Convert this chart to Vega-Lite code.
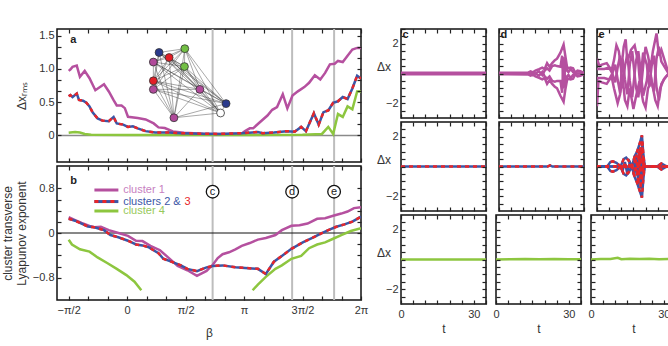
{
"$schema":"https://vega.github.io/schema/vega-lite/v6.json",
"background":"white",
"padding":{"left":0,"top":22,"right":3,"bottom":3},
"autosize":{"type":"pad"},
"config":{
 "view":{"stroke":"#111","strokeWidth":1.5},
 "font":"Liberation Sans",
 "style":{"tk":{"domain":false,"grid":false,"ticks":true,"tickColor":"#222","tickSize":4,"offset":-4,"minExtent":0,"maxExtent":60,"tickWidth":1.2,"labelPadding":3,"labelFont":"Liberation Sans","labelFontSize":11,"labelColor":"#333","titleFont":"Liberation Sans","titleFontSize":12,"titleFontWeight":"normal","titleColor":"#333","labelFlush":false,"labelOverlap":false,"zindex":1}}
},
"datasets":{
 "vlines":[{"b":0.731,"k":"c"},{"b":1.411,"k":"d"},{"b":1.77,"k":"e"}],
 "a1":[{"b":-0.5,"v":0.97},{"b":-0.486,"v":0.99},{"b":-0.467,"v":1.03},{"b":-0.431,"v":1.05},{"b":-0.404,"v":0.88},{"b":-0.363,"v":0.97},{"b":-0.322,"v":0.86},{"b":-0.272,"v":0.68},{"b":-0.198,"v":0.77},{"b":-0.157,"v":0.66},{"b":-0.116,"v":0.53},{"b":-0.089,"v":0.45},{"b":-0.048,"v":0.45},{"b":-0.02,"v":0.41},{"b":0.007,"v":0.28},{"b":0.09,"v":0.26},{"b":0.158,"v":0.24},{"b":0.227,"v":0.18},{"b":0.268,"v":0.12},{"b":0.322,"v":0.11},{"b":0.391,"v":0.06},{"b":0.487,"v":0.04},{"b":0.651,"v":0.026},{"b":0.789,"v":0.022},{"b":0.871,"v":0.022},{"b":0.98,"v":0.03},{"b":1.008,"v":0.064},{"b":1.049,"v":0.106},{"b":1.077,"v":0.106},{"b":1.118,"v":0.171},{"b":1.159,"v":0.235},{"b":1.2,"v":0.299},{"b":1.241,"v":0.385},{"b":1.282,"v":0.427},{"b":1.331,"v":0.619},{"b":1.37,"v":0.406},{"b":1.414,"v":0.598},{"b":1.46,"v":0.662},{"b":1.515,"v":0.726},{"b":1.556,"v":0.791},{"b":1.605,"v":0.906},{"b":1.652,"v":0.842},{"b":1.693,"v":0.94},{"b":1.734,"v":1.068},{"b":1.775,"v":1.077},{"b":1.803,"v":1.12},{"b":1.844,"v":1.103},{"b":1.885,"v":1.197},{"b":1.926,"v":1.291},{"b":1.967,"v":1.316},{"b":2.0,"v":1.316}],
 "a23":[{"b":-0.5,"v":0.59},{"b":-0.486,"v":0.607},{"b":-0.467,"v":0.577},{"b":-0.431,"v":0.628},{"b":-0.412,"v":0.534},{"b":-0.377,"v":0.521},{"b":-0.349,"v":0.491},{"b":-0.322,"v":0.436},{"b":-0.294,"v":0.342},{"b":-0.253,"v":0.256},{"b":-0.212,"v":0.222},{"b":-0.157,"v":0.214},{"b":-0.116,"v":0.278},{"b":-0.089,"v":0.179},{"b":-0.034,"v":0.162},{"b":0.007,"v":0.128},{"b":0.049,"v":0.137},{"b":0.09,"v":0.106},{"b":0.158,"v":0.064},{"b":0.24,"v":0.043},{"b":0.35,"v":0.043},{"b":0.46,"v":0.034},{"b":0.624,"v":0.026},{"b":0.789,"v":0.022},{"b":0.98,"v":0.034},{"b":1.118,"v":0.051},{"b":1.159,"v":0.034},{"b":1.255,"v":0.043},{"b":1.364,"v":0.064},{"b":1.433,"v":0.056},{"b":1.488,"v":0.128},{"b":1.529,"v":0.064},{"b":1.597,"v":0.333},{"b":1.638,"v":0.162},{"b":1.679,"v":0.35},{"b":1.72,"v":0.376},{"b":1.762,"v":0.491},{"b":1.803,"v":0.513},{"b":1.844,"v":0.577},{"b":1.885,"v":0.547},{"b":1.926,"v":0.705},{"b":1.967,"v":0.897},{"b":2.0,"v":0.855}],
 "a4":[{"b":-0.5,"v":0.04},{"b":-0.486,"v":0.043},{"b":-0.445,"v":0.051},{"b":-0.404,"v":0.043},{"b":-0.363,"v":0.022},{"b":-0.308,"v":0.009},{"b":0,"v":0.005},{"b":0.5,"v":0.005},{"b":1.0,"v":0.005},{"b":1.5,"v":0.008},{"b":1.666,"v":0.022},{"b":1.72,"v":0.128},{"b":1.762,"v":0.022},{"b":1.803,"v":0.321},{"b":1.844,"v":0.278},{"b":1.885,"v":0.436},{"b":1.926,"v":0.393},{"b":1.967,"v":0.662},{"b":2.0,"v":0.662}],
 "b1":[{"b":-0.5,"v":0.282},{"b":-0.445,"v":0.231},{"b":-0.39,"v":0.179},{"b":-0.322,"v":0.128},{"b":-0.28,"v":0.102},{"b":-0.225,"v":0.112},{"b":-0.157,"v":0.051},{"b":-0.075,"v":0.0},{"b":0.007,"v":-0.052},{"b":0.076,"v":-0.138},{"b":0.131,"v":-0.145},{"b":0.199,"v":-0.231},{"b":0.281,"v":-0.308},{"b":0.35,"v":-0.437},{"b":0.432,"v":-0.591},{"b":0.515,"v":-0.668},{"b":0.597,"v":-0.769},{"b":0.679,"v":-0.68},{"b":0.734,"v":-0.565},{"b":0.775,"v":-0.45},{"b":0.816,"v":-0.38},{"b":0.871,"v":-0.345},{"b":0.926,"v":-0.292},{"b":0.98,"v":-0.231},{"b":1.049,"v":-0.18},{"b":1.118,"v":-0.118},{"b":1.186,"v":-0.088},{"b":1.268,"v":-0.037},{"b":1.323,"v":0.051},{"b":1.405,"v":0.128},{"b":1.474,"v":0.138},{"b":1.543,"v":0.169},{"b":1.625,"v":0.255},{"b":1.693,"v":0.266},{"b":1.762,"v":0.308},{"b":1.831,"v":0.348},{"b":1.885,"v":0.385},{"b":1.94,"v":0.446},{"b":2.0,"v":0.462}],
 "b23":[{"b":-0.5,"v":0.255},{"b":-0.445,"v":0.22},{"b":-0.39,"v":0.169},{"b":-0.336,"v":0.117},{"b":-0.28,"v":0.102},{"b":-0.239,"v":0.077},{"b":-0.198,"v":0.051},{"b":-0.143,"v":-0.037},{"b":-0.075,"v":-0.077},{"b":0.007,"v":-0.138},{"b":0.076,"v":-0.206},{"b":0.131,"v":-0.222},{"b":0.186,"v":-0.257},{"b":0.268,"v":-0.36},{"b":0.309,"v":-0.462},{"b":0.377,"v":-0.514},{"b":0.46,"v":-0.58},{"b":0.515,"v":-0.642},{"b":0.597,"v":-0.683},{"b":0.679,"v":-0.615},{"b":0.734,"v":-0.591},{"b":0.816,"v":-0.58},{"b":0.926,"v":-0.615},{"b":1.008,"v":-0.626},{"b":1.118,"v":-0.642},{"b":1.186,"v":-0.734},{"b":1.255,"v":-0.514},{"b":1.323,"v":-0.411},{"b":1.405,"v":-0.283},{"b":1.502,"v":-0.169},{"b":1.584,"v":-0.088},{"b":1.652,"v":-0.015},{"b":1.72,"v":0.051},{"b":1.789,"v":0.112},{"b":1.858,"v":0.154},{"b":1.926,"v":0.205},{"b":2.0,"v":0.292}],
 "b4":[{"g":1,"b":-0.5,"v":-0.12},{"g":1,"b":-0.472,"v":-0.206},{"g":1,"b":-0.404,"v":-0.292},{"g":1,"b":-0.322,"v":-0.334},{"g":1,"b":-0.253,"v":-0.437},{"g":1,"b":-0.171,"v":-0.538},{"g":1,"b":-0.089,"v":-0.642},{"g":1,"b":-0.007,"v":-0.754},{"g":1,"b":0.063,"v":-0.872},{"g":1,"b":0.121,"v":-1.025},{"g":2,"b":1.073,"v":-1.025},{"g":2,"b":1.118,"v":-0.923},{"g":2,"b":1.186,"v":-0.785},{"g":2,"b":1.268,"v":-0.642},{"g":2,"b":1.323,"v":-0.58},{"g":2,"b":1.405,"v":-0.462},{"g":2,"b":1.488,"v":-0.411},{"g":2,"b":1.556,"v":-0.272},{"g":2,"b":1.625,"v":-0.206},{"g":2,"b":1.693,"v":-0.169},{"g":2,"b":1.762,"v":-0.103},{"g":2,"b":1.831,"v":-0.037},{"g":2,"b":1.913,"v":0.035},{"g":2,"b":2.0,"v":0.086}],
 "nodes":[{"id":0,"nx":0.273,"ny":1.247,"k":"2"},{"id":1,"nx":0.493,"ny":1.304,"k":"4"},{"id":2,"nx":0.359,"ny":1.171,"k":"3"},{"id":3,"nx":0.224,"ny":1.103,"k":"1"},{"id":4,"nx":0.49,"ny":1.035,"k":"4"},{"id":5,"nx":0.224,"ny":0.821,"k":"3"},{"id":6,"nx":0.224,"ny":0.692,"k":"1"},{"id":7,"nx":0.622,"ny":0.692,"k":"1"},{"id":8,"nx":0.846,"ny":0.478,"k":"2"},{"id":9,"nx":0.799,"ny":0.337,"k":"0"},{"id":10,"nx":0.4,"ny":0.265,"k":"1"}],
 "edges":[{"s":0,"t":1},{"s":0,"t":2},{"s":0,"t":4},{"s":0,"t":5},{"s":0,"t":6},{"s":0,"t":7},{"s":0,"t":8},{"s":0,"t":9},{"s":0,"t":10},{"s":1,"t":2},{"s":1,"t":3},{"s":1,"t":4},{"s":1,"t":5},{"s":1,"t":6},{"s":1,"t":7},{"s":1,"t":8},{"s":1,"t":9},{"s":1,"t":10},{"s":2,"t":3},{"s":2,"t":4},{"s":2,"t":5},{"s":2,"t":6},{"s":2,"t":7},{"s":2,"t":8},{"s":2,"t":9},{"s":2,"t":10},{"s":3,"t":4},{"s":3,"t":5},{"s":3,"t":7},{"s":3,"t":8},{"s":3,"t":9},{"s":3,"t":10},{"s":4,"t":5},{"s":4,"t":6},{"s":4,"t":7},{"s":4,"t":8},{"s":4,"t":9},{"s":4,"t":10},{"s":5,"t":7},{"s":5,"t":8},{"s":5,"t":9},{"s":5,"t":10},{"s":6,"t":7},{"s":6,"t":8},{"s":6,"t":9},{"s":6,"t":10},{"s":7,"t":8},{"s":7,"t":9},{"s":7,"t":10},{"s":8,"t":9},{"s":8,"t":10},{"s":9,"t":10}],
 "ts":[
  {"p":"c1","s":"a","t":0,"v":0.05},{"p":"c1","s":"a","t":35,"v":0.05},{"p":"c1","s":"b","t":0,"v":-0.05},{"p":"c1","s":"b","t":35,"v":-0.05},
  {"p":"c2","s":"a","t":0,"v":0},{"p":"c2","s":"a","t":35,"v":0},
  {"p":"d2","s":"a","t":0,"v":0},{"p":"d2","s":"a","t":20,"v":0},{"p":"d2","s":"a","t":21,"v":0.08},{"p":"d2","s":"a","t":22,"v":0},{"p":"d2","s":"a","t":35,"v":0},
  {"p":"c3","s":"a","t":0,"v":0},{"p":"c3","s":"a","t":35,"v":0},
  {"p":"d3","s":"a","t":0,"v":0},{"p":"d3","s":"a","t":6,"v":0.02},{"p":"d3","s":"a","t":12,"v":0.04},{"p":"d3","s":"a","t":18,"v":0.01},{"p":"d3","s":"a","t":24,"v":0.03},{"p":"d3","s":"a","t":30,"v":0.01},{"p":"d3","s":"a","t":35,"v":0.02},
  {"p":"e3","s":"a","t":0,"v":0},{"p":"e3","s":"a","t":4,"v":0.03},{"p":"e3","s":"a","t":8,"v":0.04},{"p":"e3","s":"a","t":11,"v":0.12},{"p":"e3","s":"a","t":12.5,"v":0.02},{"p":"e3","s":"a","t":16,"v":0.05},{"p":"e3","s":"a","t":20,"v":0.03},{"p":"e3","s":"a","t":24,"v":0.05},{"p":"e3","s":"a","t":28,"v":0.02},{"p":"e3","s":"a","t":32,"v":0.04},{"p":"e3","s":"a","t":35,"v":0.03},
  {"p":"d1","s":"1","t":0,"v":0.05},{"p":"d1","s":"1","t":12,"v":0.06},{"p":"d1","s":"1","t":13,"v":0.15},{"p":"d1","s":"1","t":14,"v":0.08},{"p":"d1","s":"1","t":15,"v":0.2},{"p":"d1","s":"1","t":16.5,"v":0.3},{"p":"d1","s":"1","t":17.8,"v":0.4},{"p":"d1","s":"1","t":18.8,"v":0.3},{"p":"d1","s":"1","t":19.8,"v":0.7},{"p":"d1","s":"1","t":20.8,"v":0.45},{"p":"d1","s":"1","t":21.9,"v":0.7},{"p":"d1","s":"1","t":23,"v":0.9},{"p":"d1","s":"1","t":23.9,"v":1.0},{"p":"d1","s":"1","t":25.3,"v":1.4},{"p":"d1","s":"1","t":26.6,"v":1.95},{"p":"d1","s":"1","t":27.3,"v":1.2},{"p":"d1","s":"1","t":28,"v":0.45},{"p":"d1","s":"1","t":28.6,"v":0.35},{"p":"d1","s":"1","t":29.5,"v":0.4},{"p":"d1","s":"1","t":30.5,"v":0.35},{"p":"d1","s":"1","t":31.4,"v":0.05},{"p":"d1","s":"1","t":32.3,"v":0.2},{"p":"d1","s":"1","t":33.5,"v":0.15},{"p":"d1","s":"1","t":35,"v":0.05},
  {"p":"d1","s":"2","t":0,"v":-0.05},{"p":"d1","s":"2","t":12,"v":-0.06},{"p":"d1","s":"2","t":13,"v":-0.15},{"p":"d1","s":"2","t":14,"v":-0.08},{"p":"d1","s":"2","t":15,"v":-0.2},{"p":"d1","s":"2","t":16.5,"v":-0.3},{"p":"d1","s":"2","t":17.8,"v":-0.4},{"p":"d1","s":"2","t":18.8,"v":-0.3},{"p":"d1","s":"2","t":19.8,"v":-0.7},{"p":"d1","s":"2","t":20.8,"v":-0.45},{"p":"d1","s":"2","t":21.9,"v":-0.7},{"p":"d1","s":"2","t":23,"v":-0.9},{"p":"d1","s":"2","t":23.9,"v":-1.0},{"p":"d1","s":"2","t":25.3,"v":-1.5},{"p":"d1","s":"2","t":26.6,"v":-1.9},{"p":"d1","s":"2","t":27.3,"v":-1.1},{"p":"d1","s":"2","t":28,"v":-0.45},{"p":"d1","s":"2","t":28.6,"v":-0.35},{"p":"d1","s":"2","t":29.5,"v":-0.4},{"p":"d1","s":"2","t":30.5,"v":-0.35},{"p":"d1","s":"2","t":31.4,"v":-0.05},{"p":"d1","s":"2","t":32.3,"v":-0.2},{"p":"d1","s":"2","t":33.5,"v":-0.15},{"p":"d1","s":"2","t":35,"v":-0.05},
  {"p":"d1","s":"3","t":0,"v":0},{"p":"d1","s":"3","t":15,"v":0},{"p":"d1","s":"3","t":16.5,"v":0.15},{"p":"d1","s":"3","t":17.8,"v":-0.1},{"p":"d1","s":"3","t":18.8,"v":0.2},{"p":"d1","s":"3","t":19.8,"v":0.35},{"p":"d1","s":"3","t":20.8,"v":0.2},{"p":"d1","s":"3","t":21.9,"v":0.5},{"p":"d1","s":"3","t":23,"v":0.55},{"p":"d1","s":"3","t":23.9,"v":0.5},{"p":"d1","s":"3","t":25.3,"v":0.45},{"p":"d1","s":"3","t":26,"v":1.2},{"p":"d1","s":"3","t":26.6,"v":-1.0},{"p":"d1","s":"3","t":27.3,"v":0.8},{"p":"d1","s":"3","t":28,"v":0.2},{"p":"d1","s":"3","t":28.6,"v":0.1},{"p":"d1","s":"3","t":29.5,"v":0.3},{"p":"d1","s":"3","t":30.5,"v":0.1},{"p":"d1","s":"3","t":31.4,"v":0},{"p":"d1","s":"3","t":35,"v":0},
  {"p":"d1","s":"4","t":0,"v":0},{"p":"d1","s":"4","t":15,"v":0},{"p":"d1","s":"4","t":16.5,"v":-0.15},{"p":"d1","s":"4","t":17.8,"v":0.1},{"p":"d1","s":"4","t":18.8,"v":-0.2},{"p":"d1","s":"4","t":19.8,"v":-0.35},{"p":"d1","s":"4","t":20.8,"v":-0.2},{"p":"d1","s":"4","t":21.9,"v":-0.5},{"p":"d1","s":"4","t":23,"v":-0.55},{"p":"d1","s":"4","t":23.9,"v":-0.5},{"p":"d1","s":"4","t":25.3,"v":-0.5},{"p":"d1","s":"4","t":26,"v":-1.3},{"p":"d1","s":"4","t":26.6,"v":1.1},{"p":"d1","s":"4","t":27.3,"v":-0.8},{"p":"d1","s":"4","t":28,"v":-0.2},{"p":"d1","s":"4","t":28.6,"v":-0.1},{"p":"d1","s":"4","t":29.5,"v":-0.3},{"p":"d1","s":"4","t":30.5,"v":-0.1},{"p":"d1","s":"4","t":31.4,"v":0},{"p":"d1","s":"4","t":35,"v":0},
  {"p":"e1","s":"A","t":0,"v":1.0},{"p":"e1","s":"A","t":1,"v":0.5},{"p":"e1","s":"A","t":2,"v":0.6},{"p":"e1","s":"A","t":4,"v":0.7},{"p":"e1","s":"A","t":6,"v":0.2},{"p":"e1","s":"A","t":7,"v":0.9},{"p":"e1","s":"A","t":8,"v":1.9},{"p":"e1","s":"A","t":9,"v":1.5},{"p":"e1","s":"A","t":10,"v":0.3},{"p":"e1","s":"A","t":11,"v":1.8},{"p":"e1","s":"A","t":11.8,"v":2.3},{"p":"e1","s":"A","t":12.5,"v":0.8},{"p":"e1","s":"A","t":14,"v":1.6},{"p":"e1","s":"A","t":15.5,"v":1.9},{"p":"e1","s":"A","t":17,"v":0.7},{"p":"e1","s":"A","t":18,"v":-1.2},{"p":"e1","s":"A","t":19,"v":0.5},{"p":"e1","s":"A","t":20,"v":1.8},{"p":"e1","s":"A","t":21,"v":1.2},{"p":"e1","s":"A","t":22,"v":0.3},{"p":"e1","s":"A","t":23,"v":1.5},{"p":"e1","s":"A","t":24.5,"v":2.7},{"p":"e1","s":"A","t":25.5,"v":1.2},{"p":"e1","s":"A","t":26.5,"v":1.6},{"p":"e1","s":"A","t":28,"v":0.8},{"p":"e1","s":"A","t":29.5,"v":0},{"p":"e1","s":"A","t":31,"v":-0.8},{"p":"e1","s":"A","t":32.5,"v":-1.3},{"p":"e1","s":"A","t":33.5,"v":-1.0},{"p":"e1","s":"A","t":35,"v":-0.5},
  {"p":"e1","s":"B","t":0,"v":-2.2},{"p":"e1","s":"B","t":0.6,"v":-0.5},{"p":"e1","s":"B","t":2,"v":-0.6},{"p":"e1","s":"B","t":4,"v":-0.7},{"p":"e1","s":"B","t":6,"v":-0.2},{"p":"e1","s":"B","t":7,"v":-1.0},{"p":"e1","s":"B","t":8.5,"v":-2.0},{"p":"e1","s":"B","t":9.5,"v":-1.4},{"p":"e1","s":"B","t":10.5,"v":-0.2},{"p":"e1","s":"B","t":11.5,"v":-1.8},{"p":"e1","s":"B","t":12.5,"v":-2.2},{"p":"e1","s":"B","t":13.5,"v":-1.0},{"p":"e1","s":"B","t":15,"v":-2.4},{"p":"e1","s":"B","t":16,"v":-1.6},{"p":"e1","s":"B","t":17.5,"v":-0.5},{"p":"e1","s":"B","t":19,"v":-1.9},{"p":"e1","s":"B","t":20,"v":-2.3},{"p":"e1","s":"B","t":21,"v":-1.0},{"p":"e1","s":"B","t":22.5,"v":-0.5},{"p":"e1","s":"B","t":24,"v":-1.8},{"p":"e1","s":"B","t":25,"v":-2.2},{"p":"e1","s":"B","t":26,"v":-1.0},{"p":"e1","s":"B","t":27.5,"v":-0.4},{"p":"e1","s":"B","t":29.5,"v":0},{"p":"e1","s":"B","t":31,"v":0.9},{"p":"e1","s":"B","t":32.5,"v":1.3},{"p":"e1","s":"B","t":33.5,"v":1.1},{"p":"e1","s":"B","t":35,"v":0.6},
  {"p":"e1","s":"C","t":0,"v":0.3},{"p":"e1","s":"C","t":3,"v":0.3},{"p":"e1","s":"C","t":5,"v":0.4},{"p":"e1","s":"C","t":6.3,"v":0},{"p":"e1","s":"C","t":7.5,"v":-0.6},{"p":"e1","s":"C","t":8.5,"v":0.4},{"p":"e1","s":"C","t":9.5,"v":1.2},{"p":"e1","s":"C","t":10.5,"v":-1.0},{"p":"e1","s":"C","t":11.5,"v":0.5},{"p":"e1","s":"C","t":12.5,"v":1.3},{"p":"e1","s":"C","t":13.5,"v":-0.5},{"p":"e1","s":"C","t":14.5,"v":-1.6},{"p":"e1","s":"C","t":16,"v":0.8},{"p":"e1","s":"C","t":17,"v":1.5},{"p":"e1","s":"C","t":18,"v":0.2},{"p":"e1","s":"C","t":19,"v":-1.5},{"p":"e1","s":"C","t":20.5,"v":-0.5},{"p":"e1","s":"C","t":21.5,"v":0.9},{"p":"e1","s":"C","t":22.5,"v":-0.6},{"p":"e1","s":"C","t":23.5,"v":-1.2},{"p":"e1","s":"C","t":24.5,"v":1.0},{"p":"e1","s":"C","t":25.5,"v":1.8},{"p":"e1","s":"C","t":26.5,"v":0.8},{"p":"e1","s":"C","t":28,"v":0.4},{"p":"e1","s":"C","t":29.5,"v":0},{"p":"e1","s":"C","t":31,"v":-0.4},{"p":"e1","s":"C","t":32.5,"v":-0.6},{"p":"e1","s":"C","t":34,"v":-0.2},{"p":"e1","s":"C","t":35,"v":-1.4},
  {"p":"e1","s":"D","t":0,"v":-0.3},{"p":"e1","s":"D","t":3,"v":-0.3},{"p":"e1","s":"D","t":5,"v":-0.4},{"p":"e1","s":"D","t":6.3,"v":0},{"p":"e1","s":"D","t":7.5,"v":0.6},{"p":"e1","s":"D","t":8.5,"v":-0.4},{"p":"e1","s":"D","t":9.5,"v":-1.3},{"p":"e1","s":"D","t":10.5,"v":1.0},{"p":"e1","s":"D","t":11.5,"v":-0.4},{"p":"e1","s":"D","t":12.5,"v":-1.4},{"p":"e1","s":"D","t":13.5,"v":0.6},{"p":"e1","s":"D","t":14.5,"v":1.5},{"p":"e1","s":"D","t":16,"v":-0.9},{"p":"e1","s":"D","t":17,"v":-1.6},{"p":"e1","s":"D","t":18,"v":-0.3},{"p":"e1","s":"D","t":19,"v":1.4},{"p":"e1","s":"D","t":20.5,"v":0.6},{"p":"e1","s":"D","t":21.5,"v":-0.9},{"p":"e1","s":"D","t":22.5,"v":0.5},{"p":"e1","s":"D","t":23.5,"v":1.2},{"p":"e1","s":"D","t":24.5,"v":-0.9},{"p":"e1","s":"D","t":25.5,"v":-1.8},{"p":"e1","s":"D","t":26.5,"v":-0.7},{"p":"e1","s":"D","t":28,"v":-0.3},{"p":"e1","s":"D","t":29.5,"v":0},{"p":"e1","s":"D","t":31,"v":0.4},{"p":"e1","s":"D","t":32.5,"v":0.7},{"p":"e1","s":"D","t":34,"v":1.2},{"p":"e1","s":"D","t":35,"v":0.3},
  {"p":"e2","s":"P","t":0,"v":0.02},{"p":"e2","s":"P","t":4.2,"v":0},{"p":"e2","s":"P","t":5.5,"v":0.3},{"p":"e2","s":"P","t":6.5,"v":0.35},{"p":"e2","s":"P","t":8,"v":0.25},{"p":"e2","s":"P","t":9.7,"v":0},{"p":"e2","s":"P","t":11,"v":0.5},{"p":"e2","s":"P","t":12,"v":0.6},{"p":"e2","s":"P","t":13,"v":0.4},{"p":"e2","s":"P","t":14.4,"v":0},{"p":"e2","s":"P","t":15.5,"v":0.7},{"p":"e2","s":"P","t":16.5,"v":1.0},{"p":"e2","s":"P","t":17.5,"v":1.5},{"p":"e2","s":"P","t":18.5,"v":2.1},{"p":"e2","s":"P","t":19,"v":1.0},{"p":"e2","s":"P","t":19.6,"v":0},{"p":"e2","s":"P","t":24.7,"v":0},{"p":"e2","s":"P","t":26.5,"v":0.2},{"p":"e2","s":"P","t":28.8,"v":0},{"p":"e2","s":"P","t":30.1,"v":0},{"p":"e2","s":"P","t":31.5,"v":0.45},{"p":"e2","s":"P","t":32.5,"v":0.1},{"p":"e2","s":"P","t":33.5,"v":0.5},{"p":"e2","s":"P","t":35,"v":0.3},
  {"p":"e2","s":"N","t":0,"v":-0.02},{"p":"e2","s":"N","t":4.2,"v":0},{"p":"e2","s":"N","t":5.5,"v":-0.3},{"p":"e2","s":"N","t":6.5,"v":-0.35},{"p":"e2","s":"N","t":8,"v":-0.25},{"p":"e2","s":"N","t":9.7,"v":0},{"p":"e2","s":"N","t":11,"v":-0.5},{"p":"e2","s":"N","t":12,"v":-0.6},{"p":"e2","s":"N","t":13,"v":-0.4},{"p":"e2","s":"N","t":14.4,"v":0},{"p":"e2","s":"N","t":15.5,"v":-0.7},{"p":"e2","s":"N","t":16.5,"v":-1.1},{"p":"e2","s":"N","t":17.5,"v":-1.6},{"p":"e2","s":"N","t":18.5,"v":-2.1},{"p":"e2","s":"N","t":19,"v":-1.0},{"p":"e2","s":"N","t":19.6,"v":0},{"p":"e2","s":"N","t":24.7,"v":0},{"p":"e2","s":"N","t":26.5,"v":-0.2},{"p":"e2","s":"N","t":28.8,"v":0},{"p":"e2","s":"N","t":30.1,"v":0},{"p":"e2","s":"N","t":31.5,"v":-0.45},{"p":"e2","s":"N","t":32.5,"v":-0.1},{"p":"e2","s":"N","t":33.5,"v":-0.5},{"p":"e2","s":"N","t":35,"v":-0.3},
  {"p":"e2","s":"X","t":0,"v":0},{"p":"e2","s":"X","t":9.7,"v":0},{"p":"e2","s":"X","t":10.5,"v":-0.3},{"p":"e2","s":"X","t":11.5,"v":0.3},{"p":"e2","s":"X","t":12.5,"v":-0.5},{"p":"e2","s":"X","t":13.5,"v":0.3},{"p":"e2","s":"X","t":14.4,"v":0},{"p":"e2","s":"X","t":15.3,"v":-0.6},{"p":"e2","s":"X","t":16.2,"v":0.8},{"p":"e2","s":"X","t":17,"v":-1.2},{"p":"e2","s":"X","t":17.8,"v":1.3},{"p":"e2","s":"X","t":18.5,"v":-1.0},{"p":"e2","s":"X","t":19.2,"v":0.5},{"p":"e2","s":"X","t":19.6,"v":0},{"p":"e2","s":"X","t":35,"v":0},
  {"p":"e2","s":"Y","t":0,"v":0},{"p":"e2","s":"Y","t":14.4,"v":0},{"p":"e2","s":"Y","t":15.5,"v":0.4},{"p":"e2","s":"Y","t":16.5,"v":-0.6},{"p":"e2","s":"Y","t":17.3,"v":1.0},{"p":"e2","s":"Y","t":18,"v":-1.5},{"p":"e2","s":"Y","t":18.6,"v":1.6},{"p":"e2","s":"Y","t":19.2,"v":-0.4},{"p":"e2","s":"Y","t":19.6,"v":0},{"p":"e2","s":"Y","t":35,"v":0}
 ]
},
"spacing":6,
"hconcat":[
 {"spacing":0,"vconcat":[
  {"width":304,"height":133,
   "layer":[
    {"data":{"values":[{}]},"mark":{"type":"point","opacity":0},"encoding":{
      "x":{"datum":0,"type":"quantitative","scale":{"domain":[-0.5,2]},"axis":{"style":"tk","domain":false,"tickSize":4,"offset":-4,"minExtent":0,"tickColor":"#222","tickWidth":1.2,"orient":"bottom","values":[-0.5,-0.3333,-0.1667,0,0.1667,0.3333,0.5,0.6667,0.8333,1,1.1667,1.3333,1.5,1.6667,1.8333,2],"labels":false,"title":null}},
      "y":{"datum":0,"type":"quantitative","scale":{"domain":[-0.205,1.5]},"axis":{"style":"tk","domain":false,"tickSize":4,"offset":-4,"minExtent":0,"tickColor":"#222","tickWidth":1.2,"labelPadding":3,"orient":"left","values":[0,0.1667,0.3333,0.5,0.6667,0.8333,1,1.1667,1.3333,1.5],"labelExpr":"datum.value==0?'0':datum.value==0.5?'0.5':datum.value==1?'1.0':datum.value==1.5?'1.5':''","title":"Δxᵣₘₛ","titlePadding":10}}}},
    {"data":{"values":[{}]},"mark":{"type":"point","opacity":0},"encoding":{
      "x":{"datum":0,"type":"quantitative","scale":{"domain":[-0.5,2]},"axis":{"style":"tk","domain":false,"tickSize":4,"offset":-4,"minExtent":0,"tickColor":"#222","tickWidth":1.2,"orient":"top","values":[-0.5,-0.3333,-0.1667,0,0.1667,0.3333,0.5,0.6667,0.8333,1,1.1667,1.3333,1.5,1.6667,1.8333,2],"labels":false,"title":null}},
      "y":{"datum":0,"type":"quantitative","scale":{"domain":[-0.205,1.5]},"axis":{"style":"tk","domain":false,"tickSize":4,"offset":-4,"minExtent":0,"tickColor":"#222","tickWidth":1.2,"orient":"right","values":[0,0.1667,0.3333,0.5,0.6667,0.8333,1,1.1667,1.3333,1.5],"labels":false,"title":null}}}},
    {"data":{"name":"vlines"},"mark":{"type":"rule","color":"#bdbdbd","strokeWidth":2},"encoding":{"x":{"field":"b","type":"quantitative","axis":null}}},
    {"data":{"values":[{"v":0}]},"mark":{"type":"rule","color":"#8a8a8a","strokeWidth":1.5},"encoding":{"y":{"field":"v","type":"quantitative","axis":null}}},
    {"data":{"name":"a1"},"mark":{"type":"line","color":"#b5509f","strokeWidth":2.5,"clip":true},"encoding":{"x":{"field":"b","type":"quantitative","axis":null},"y":{"field":"v","type":"quantitative","axis":null}}},
    {"data":{"name":"a4"},"mark":{"type":"line","color":"#8dc63f","strokeWidth":2.5,"clip":true},"encoding":{"x":{"field":"b","type":"quantitative","axis":null},"y":{"field":"v","type":"quantitative","axis":null}}},
    {"data":{"name":"a23"},"mark":{"type":"line","color":"#3b56a6","strokeWidth":2.5,"clip":true},"encoding":{"x":{"field":"b","type":"quantitative","axis":null},"y":{"field":"v","type":"quantitative","axis":null}}},
    {"data":{"name":"a23"},"mark":{"type":"line","color":"#e8262a","strokeWidth":2.5,"strokeDash":[4,4],"clip":true},"encoding":{"x":{"field":"b","type":"quantitative","axis":null},"y":{"field":"v","type":"quantitative","axis":null}}},
    {"data":{"name":"edges"},"transform":[
      {"lookup":"s","from":{"data":{"name":"nodes"},"key":"id","fields":["nx","ny"]},"as":["x1","y1"]},
      {"lookup":"t","from":{"data":{"name":"nodes"},"key":"id","fields":["nx","ny"]},"as":["x2","y2"]}],
     "mark":{"type":"rule","color":"#333","strokeWidth":0.5,"opacity":0.85},"encoding":{"x":{"field":"x1","type":"quantitative","axis":null},"y":{"field":"y1","type":"quantitative","axis":null},"x2":{"field":"x2"},"y2":{"field":"y2"}}},
    {"data":{"name":"nodes"},"mark":{"type":"point","filled":true,"size":62,"stroke":"#333","strokeWidth":0.8,"opacity":1},"encoding":{"x":{"field":"nx","type":"quantitative","axis":null},"y":{"field":"ny","type":"quantitative","axis":null},"fill":{"field":"k","type":"nominal","scale":{"domain":["0","1","2","3","4"],"range":["#ffffff","#b04a9a","#2a3a8c","#e31e26","#72bf44"]},"legend":null}}},
    {"data":{"values":[{}]},"mark":{"type":"text","text":"a","fontWeight":"bold","fontSize":11,"align":"left","baseline":"middle","color":"#222"},"encoding":{"x":{"datum":-0.487,"type":"quantitative","axis":null},"y":{"datum":1.44,"type":"quantitative","axis":null}}}
   ],
   "resolve":{"axis":{"x":"independent","y":"independent"}}
  },
  {"width":304,"height":134,
   "layer":[
    {"data":{"values":[{}]},"mark":{"type":"point","opacity":0},"encoding":{
      "x":{"datum":0,"type":"quantitative","scale":{"domain":[-0.5,2]},"axis":{"style":"tk","domain":false,"tickSize":4,"offset":-4,"minExtent":0,"tickColor":"#222","tickWidth":1.2,"labelPadding":4,"orient":"bottom","values":[-0.5,-0.3333,-0.1667,0,0.1667,0.3333,0.5,0.6667,0.8333,1,1.1667,1.3333,1.5,1.6667,1.8333,2],"labelExpr":"datum.value==-0.5?'−π/2':datum.value==0?'0':datum.value==0.5?'π/2':datum.value==1?'π':datum.value==1.5?'3π/2':datum.value==2?'2π':''","title":"β","titlePadding":12}},
      "y":{"datum":0,"type":"quantitative","scale":{"domain":[-1.026,1.035]},"axis":{"style":"tk","domain":false,"tickSize":4,"offset":-4,"minExtent":0,"tickColor":"#222","tickWidth":1.2,"labelPadding":3,"orient":"left","values":[-0.8,-0.6,-0.4,-0.2,0,0.2,0.4,0.6,0.8],"labelExpr":"datum.value==0.8?'0.8':datum.value==0?'0':datum.value==-0.8?'−0.8':''","title":["cluster transverse","Lyapunov exponent"],"titlePadding":4}}}},
    {"data":{"values":[{}]},"mark":{"type":"point","opacity":0},"encoding":{
      "x":{"datum":0,"type":"quantitative","scale":{"domain":[-0.5,2]},"axis":{"style":"tk","domain":false,"tickSize":4,"offset":-4,"minExtent":0,"tickColor":"#222","tickWidth":1.2,"orient":"top","values":[-0.5,-0.3333,-0.1667,0,0.1667,0.3333,0.5,0.6667,0.8333,1,1.1667,1.3333,1.5,1.6667,1.8333,2],"labels":false,"title":null}},
      "y":{"datum":0,"type":"quantitative","scale":{"domain":[-1.026,1.035]},"axis":{"style":"tk","domain":false,"tickSize":4,"offset":-4,"minExtent":0,"tickColor":"#222","tickWidth":1.2,"orient":"right","values":[-0.8,-0.6,-0.4,-0.2,0,0.2,0.4,0.6,0.8],"labels":false,"title":null}}}},
    {"data":{"name":"vlines"},"mark":{"type":"rule","color":"#bdbdbd","strokeWidth":2},"encoding":{"x":{"field":"b","type":"quantitative","axis":null}}},
    {"data":{"values":[{"v":0}]},"mark":{"type":"rule","color":"#111","strokeWidth":1},"encoding":{"y":{"field":"v","type":"quantitative","axis":null}}},
    {"data":{"name":"b4"},"mark":{"type":"line","color":"#8dc63f","strokeWidth":2.5,"clip":true},"encoding":{"x":{"field":"b","type":"quantitative","axis":null},"y":{"field":"v","type":"quantitative","axis":null},"detail":{"field":"g"}}},
    {"data":{"name":"b1"},"mark":{"type":"line","color":"#b5509f","strokeWidth":2.5,"clip":true},"encoding":{"x":{"field":"b","type":"quantitative","axis":null},"y":{"field":"v","type":"quantitative","axis":null}}},
    {"data":{"name":"b23"},"mark":{"type":"line","color":"#3b56a6","strokeWidth":2.5,"clip":true},"encoding":{"x":{"field":"b","type":"quantitative","axis":null},"y":{"field":"v","type":"quantitative","axis":null}}},
    {"data":{"name":"b23"},"mark":{"type":"line","color":"#e8262a","strokeWidth":2.5,"strokeDash":[4,4],"clip":true},"encoding":{"x":{"field":"b","type":"quantitative","axis":null},"y":{"field":"v","type":"quantitative","axis":null}}},
    {"data":{"name":"vlines"},"mark":{"type":"point","filled":true,"fill":"white","stroke":"#111","strokeWidth":1.3,"size":160,"opacity":1},"encoding":{"x":{"field":"b","type":"quantitative","axis":null},"y":{"datum":0.74,"type":"quantitative","axis":null}}},
    {"data":{"name":"vlines"},"mark":{"type":"text","fontSize":11,"baseline":"middle","align":"center","color":"#222"},"encoding":{"x":{"field":"b","type":"quantitative","axis":null},"y":{"datum":0.74,"type":"quantitative","axis":null},"text":{"field":"k"}}},
    {"data":{"values":[{}]},"mark":{"type":"rule","color":"#b5509f","strokeWidth":3},"encoding":{"x":{"datum":-0.28,"type":"quantitative","axis":null},"x2":{"datum":-0.075},"y":{"datum":0.77,"type":"quantitative","axis":null}}},
    {"data":{"values":[{}]},"mark":{"type":"rule","color":"#3b56a6","strokeWidth":3},"encoding":{"x":{"datum":-0.28,"type":"quantitative","axis":null},"x2":{"datum":-0.075},"y":{"datum":0.563,"type":"quantitative","axis":null}}},
    {"data":{"values":[{}]},"mark":{"type":"rule","color":"#e8262a","strokeWidth":3,"strokeDash":[4,4]},"encoding":{"x":{"datum":-0.28,"type":"quantitative","axis":null},"x2":{"datum":-0.075},"y":{"datum":0.563,"type":"quantitative","axis":null}}},
    {"data":{"values":[{}]},"mark":{"type":"rule","color":"#8dc63f","strokeWidth":3},"encoding":{"x":{"datum":-0.28,"type":"quantitative","axis":null},"x2":{"datum":-0.075},"y":{"datum":0.394,"type":"quantitative","axis":null}}},
    {"data":{"values":[{}]},"mark":{"type":"text","text":"cluster 1","fontSize":11,"align":"left","baseline":"middle","color":"#c77fbf"},"encoding":{"x":{"datum":-0.034,"type":"quantitative","axis":null},"y":{"datum":0.77,"type":"quantitative","axis":null}}},
    {"data":{"values":[{}]},"mark":{"type":"text","text":"clusters 2 &","fontSize":11,"align":"left","baseline":"middle","color":"#3b56a6"},"encoding":{"x":{"datum":-0.034,"type":"quantitative","axis":null},"y":{"datum":0.563,"type":"quantitative","axis":null}}},
    {"data":{"values":[{}]},"mark":{"type":"text","text":"3","fontSize":11,"align":"left","baseline":"middle","color":"#e8262a"},"encoding":{"x":{"datum":0.49,"type":"quantitative","axis":null},"y":{"datum":0.563,"type":"quantitative","axis":null}}},
    {"data":{"values":[{}]},"mark":{"type":"text","text":"cluster 4","fontSize":11,"align":"left","baseline":"middle","color":"#97c95a"},"encoding":{"x":{"datum":-0.034,"type":"quantitative","axis":null},"y":{"datum":0.394,"type":"quantitative","axis":null}}},
    {"data":{"values":[{}]},"mark":{"type":"text","text":"b","fontWeight":"bold","fontSize":11,"align":"left","baseline":"middle","color":"#222"},"encoding":{"x":{"datum":-0.487,"type":"quantitative","axis":null},"y":{"datum":0.93,"type":"quantitative","axis":null}}}
   ],
   "resolve":{"axis":{"x":"independent","y":"independent"}}
  }
 ]},
 {"spacing":0,"vconcat":[
  {"spacing":7,"hconcat":[
   {"width":85,"height":89,"layer":[
     {"data":{"values":[{}]},"mark":{"type":"point","opacity":0},"encoding":{"x":{"datum":0,"type":"quantitative","scale":{"domain":[0,35]},"axis":{"style":"tk","domain":false,"tickSize":4,"offset":-4,"minExtent":0,"tickColor":"#222","tickWidth":1.2,"orient":"bottom","values":[0,5,10,15,20,25,30,35],"labels":false,"title":null}},"y":{"datum":0,"type":"quantitative","scale":{"domain":[-3,3]},"axis":{"style":"tk","domain":false,"tickSize":4,"offset":-4,"minExtent":0,"tickColor":"#222","tickWidth":1.2,"labelPadding":3,"orient":"left","values":[-2.5,-2,-1.5,-1,-0.5,0,0.5,1,1.5,2,2.5,3],"labelExpr":"datum.value==2?'2':datum.value==-2?'−2':''","title":"Δx","titleAngle":0,"titlePadding":2}}}},
     {"data":{"values":[{}]},"mark":{"type":"point","opacity":0},"encoding":{"x":{"datum":0,"type":"quantitative","scale":{"domain":[0,35]},"axis":{"style":"tk","domain":false,"tickSize":4,"offset":-4,"minExtent":0,"tickColor":"#222","tickWidth":1.2,"orient":"top","values":[0,5,10,15,20,25,30,35],"labels":false,"title":null}},"y":{"datum":0,"type":"quantitative","scale":{"domain":[-3,3]},"axis":{"style":"tk","domain":false,"tickSize":4,"offset":-4,"minExtent":0,"tickColor":"#222","tickWidth":1.2,"orient":"right","values":[-2.5,-2,-1.5,-1,-0.5,0,0.5,1,1.5,2,2.5],"labels":false,"title":null}}}},
     {"data":{"name":"ts"},"transform":[{"filter":"datum.p=='c1'"}],"mark":{"type":"line","color":"#b5509f","strokeWidth":2.5,"clip":true},"encoding":{"x":{"field":"t","type":"quantitative","axis":null},"y":{"field":"v","type":"quantitative","axis":null},"detail":{"field":"s"}}},
     {"data":{"values":[{}]},"mark":{"type":"text","text":"c","fontWeight":"bold","fontSize":11,"align":"left","baseline":"middle","color":"#222"},"encoding":{"x":{"datum":0.6,"type":"quantitative","axis":null},"y":{"datum":2.6,"type":"quantitative","axis":null}}}
    ],"resolve":{"axis":{"x":"independent","y":"independent"}}},
   {"width":85,"height":89,"layer":[
     {"data":{"values":[{}]},"mark":{"type":"point","opacity":0},"encoding":{"x":{"datum":0,"type":"quantitative","scale":{"domain":[0,35]},"axis":{"style":"tk","domain":false,"tickSize":4,"offset":-4,"minExtent":0,"tickColor":"#222","tickWidth":1.2,"orient":"bottom","values":[0,5,10,15,20,25,30,35],"labels":false,"title":null}},"y":{"datum":0,"type":"quantitative","scale":{"domain":[-3,3]},"axis":{"style":"tk","domain":false,"tickSize":4,"offset":-4,"minExtent":0,"tickColor":"#222","tickWidth":1.2,"orient":"left","values":[-2.5,-2,-1.5,-1,-0.5,0,0.5,1,1.5,2,2.5],"labels":false,"title":null}}}},
     {"data":{"values":[{}]},"mark":{"type":"point","opacity":0},"encoding":{"x":{"datum":0,"type":"quantitative","scale":{"domain":[0,35]},"axis":{"style":"tk","domain":false,"tickSize":4,"offset":-4,"minExtent":0,"tickColor":"#222","tickWidth":1.2,"orient":"top","values":[0,5,10,15,20,25,30,35],"labels":false,"title":null}},"y":{"datum":0,"type":"quantitative","scale":{"domain":[-3,3]},"axis":{"style":"tk","domain":false,"tickSize":4,"offset":-4,"minExtent":0,"tickColor":"#222","tickWidth":1.2,"orient":"right","values":[-2.5,-2,-1.5,-1,-0.5,0,0.5,1,1.5,2,2.5],"labels":false,"title":null}}}},
     {"data":{"name":"ts"},"transform":[{"filter":"datum.p=='d1'"}],"mark":{"type":"line","color":"#b5509f","strokeWidth":2.5,"clip":true},"encoding":{"x":{"field":"t","type":"quantitative","axis":null},"y":{"field":"v","type":"quantitative","axis":null},"detail":{"field":"s"}}},
     {"data":{"values":[{}]},"mark":{"type":"text","text":"d","fontWeight":"bold","fontSize":11,"align":"left","baseline":"middle","color":"#222"},"encoding":{"x":{"datum":0.6,"type":"quantitative","axis":null},"y":{"datum":2.6,"type":"quantitative","axis":null}}}
    ],"resolve":{"axis":{"x":"independent","y":"independent"}}},
   {"width":85,"height":89,"layer":[
     {"data":{"values":[{}]},"mark":{"type":"point","opacity":0},"encoding":{"x":{"datum":0,"type":"quantitative","scale":{"domain":[0,35]},"axis":{"style":"tk","domain":false,"tickSize":4,"offset":-4,"minExtent":0,"tickColor":"#222","tickWidth":1.2,"orient":"bottom","values":[0,5,10,15,20,25,30,35],"labels":false,"title":null}},"y":{"datum":0,"type":"quantitative","scale":{"domain":[-3,3]},"axis":{"style":"tk","domain":false,"tickSize":4,"offset":-4,"minExtent":0,"tickColor":"#222","tickWidth":1.2,"orient":"left","values":[-2.5,-2,-1.5,-1,-0.5,0,0.5,1,1.5,2,2.5],"labels":false,"title":null}}}},
     {"data":{"values":[{}]},"mark":{"type":"point","opacity":0},"encoding":{"x":{"datum":0,"type":"quantitative","scale":{"domain":[0,35]},"axis":{"style":"tk","domain":false,"tickSize":4,"offset":-4,"minExtent":0,"tickColor":"#222","tickWidth":1.2,"orient":"top","values":[0,5,10,15,20,25,30,35],"labels":false,"title":null}},"y":{"datum":0,"type":"quantitative","scale":{"domain":[-3,3]},"axis":{"style":"tk","domain":false,"tickSize":4,"offset":-4,"minExtent":0,"tickColor":"#222","tickWidth":1.2,"orient":"right","values":[-2.5,-2,-1.5,-1,-0.5,0,0.5,1,1.5,2,2.5],"labels":false,"title":null}}}},
     {"data":{"name":"ts"},"transform":[{"filter":"datum.p=='e1'"}],"mark":{"type":"line","color":"#b5509f","strokeWidth":2.5,"clip":true},"encoding":{"x":{"field":"t","type":"quantitative","axis":null},"y":{"field":"v","type":"quantitative","axis":null},"detail":{"field":"s"}}},
     {"data":{"values":[{}]},"mark":{"type":"text","text":"e","fontWeight":"bold","fontSize":11,"align":"left","baseline":"middle","color":"#222"},"encoding":{"x":{"datum":0.6,"type":"quantitative","axis":null},"y":{"datum":2.6,"type":"quantitative","axis":null}}}
    ],"resolve":{"axis":{"x":"independent","y":"independent"}}}
  ]},
  {"spacing":7,"hconcat":[
   {"width":85,"height":89,"layer":[
     {"data":{"values":[{}]},"mark":{"type":"point","opacity":0},"encoding":{"x":{"datum":0,"type":"quantitative","scale":{"domain":[0,35]},"axis":{"style":"tk","domain":false,"tickSize":4,"offset":-4,"minExtent":0,"tickColor":"#222","tickWidth":1.2,"orient":"bottom","values":[0,5,10,15,20,25,30,35],"labels":false,"title":null}},"y":{"datum":0,"type":"quantitative","scale":{"domain":[-3,3]},"axis":{"style":"tk","domain":false,"tickSize":4,"offset":-4,"minExtent":0,"tickColor":"#222","tickWidth":1.2,"labelPadding":3,"orient":"left","values":[-2.5,-2,-1.5,-1,-0.5,0,0.5,1,1.5,2,2.5],"labelExpr":"datum.value==2?'2':datum.value==-2?'−2':''","title":"Δx","titleAngle":0,"titlePadding":2}}}},
     {"data":{"values":[{}]},"mark":{"type":"point","opacity":0},"encoding":{"x":{"datum":0,"type":"quantitative","scale":{"domain":[0,35]},"axis":{"style":"tk","domain":false,"tickSize":4,"offset":-4,"minExtent":0,"tickColor":"#222","tickWidth":1.2,"orient":"top","values":[0,5,10,15,20,25,30,35],"labels":false,"title":null}},"y":{"datum":0,"type":"quantitative","scale":{"domain":[-3,3]},"axis":{"style":"tk","domain":false,"tickSize":4,"offset":-4,"minExtent":0,"tickColor":"#222","tickWidth":1.2,"orient":"right","values":[-2.5,-2,-1.5,-1,-0.5,0,0.5,1,1.5,2,2.5],"labels":false,"title":null}}}},
     {"data":{"name":"ts"},"transform":[{"filter":"datum.p=='c2'"}],"mark":{"type":"line","color":"#3b56a6","strokeWidth":2.5,"clip":true},"encoding":{"x":{"field":"t","type":"quantitative","axis":null},"y":{"field":"v","type":"quantitative","axis":null},"detail":{"field":"s"}}},
     {"data":{"name":"ts"},"transform":[{"filter":"datum.p=='c2'"}],"mark":{"type":"line","color":"#e8262a","strokeWidth":2.5,"strokeDash":[4,4],"clip":true},"encoding":{"x":{"field":"t","type":"quantitative","axis":null},"y":{"field":"v","type":"quantitative","axis":null},"detail":{"field":"s"}}}
    ],"resolve":{"axis":{"x":"independent","y":"independent"}}},
   {"width":85,"height":89,"layer":[
     {"data":{"values":[{}]},"mark":{"type":"point","opacity":0},"encoding":{"x":{"datum":0,"type":"quantitative","scale":{"domain":[0,35]},"axis":{"style":"tk","domain":false,"tickSize":4,"offset":-4,"minExtent":0,"tickColor":"#222","tickWidth":1.2,"orient":"bottom","values":[0,5,10,15,20,25,30,35],"labels":false,"title":null}},"y":{"datum":0,"type":"quantitative","scale":{"domain":[-3,3]},"axis":{"style":"tk","domain":false,"tickSize":4,"offset":-4,"minExtent":0,"tickColor":"#222","tickWidth":1.2,"orient":"left","values":[-2.5,-2,-1.5,-1,-0.5,0,0.5,1,1.5,2,2.5],"labels":false,"title":null}}}},
     {"data":{"values":[{}]},"mark":{"type":"point","opacity":0},"encoding":{"x":{"datum":0,"type":"quantitative","scale":{"domain":[0,35]},"axis":{"style":"tk","domain":false,"tickSize":4,"offset":-4,"minExtent":0,"tickColor":"#222","tickWidth":1.2,"orient":"top","values":[0,5,10,15,20,25,30,35],"labels":false,"title":null}},"y":{"datum":0,"type":"quantitative","scale":{"domain":[-3,3]},"axis":{"style":"tk","domain":false,"tickSize":4,"offset":-4,"minExtent":0,"tickColor":"#222","tickWidth":1.2,"orient":"right","values":[-2.5,-2,-1.5,-1,-0.5,0,0.5,1,1.5,2,2.5],"labels":false,"title":null}}}},
     {"data":{"name":"ts"},"transform":[{"filter":"datum.p=='d2'"}],"mark":{"type":"line","color":"#3b56a6","strokeWidth":2.5,"clip":true},"encoding":{"x":{"field":"t","type":"quantitative","axis":null},"y":{"field":"v","type":"quantitative","axis":null},"detail":{"field":"s"}}},
     {"data":{"name":"ts"},"transform":[{"filter":"datum.p=='d2'"}],"mark":{"type":"line","color":"#e8262a","strokeWidth":2.5,"strokeDash":[4,4],"clip":true},"encoding":{"x":{"field":"t","type":"quantitative","axis":null},"y":{"field":"v","type":"quantitative","axis":null},"detail":{"field":"s"}}}
    ],"resolve":{"axis":{"x":"independent","y":"independent"}}},
   {"width":85,"height":89,"layer":[
     {"data":{"values":[{}]},"mark":{"type":"point","opacity":0},"encoding":{"x":{"datum":0,"type":"quantitative","scale":{"domain":[0,35]},"axis":{"style":"tk","domain":false,"tickSize":4,"offset":-4,"minExtent":0,"tickColor":"#222","tickWidth":1.2,"orient":"bottom","values":[0,5,10,15,20,25,30,35],"labels":false,"title":null}},"y":{"datum":0,"type":"quantitative","scale":{"domain":[-3,3]},"axis":{"style":"tk","domain":false,"tickSize":4,"offset":-4,"minExtent":0,"tickColor":"#222","tickWidth":1.2,"orient":"left","values":[-2.5,-2,-1.5,-1,-0.5,0,0.5,1,1.5,2,2.5],"labels":false,"title":null}}}},
     {"data":{"values":[{}]},"mark":{"type":"point","opacity":0},"encoding":{"x":{"datum":0,"type":"quantitative","scale":{"domain":[0,35]},"axis":{"style":"tk","domain":false,"tickSize":4,"offset":-4,"minExtent":0,"tickColor":"#222","tickWidth":1.2,"orient":"top","values":[0,5,10,15,20,25,30,35],"labels":false,"title":null}},"y":{"datum":0,"type":"quantitative","scale":{"domain":[-3,3]},"axis":{"style":"tk","domain":false,"tickSize":4,"offset":-4,"minExtent":0,"tickColor":"#222","tickWidth":1.2,"orient":"right","values":[-2.5,-2,-1.5,-1,-0.5,0,0.5,1,1.5,2,2.5],"labels":false,"title":null}}}},
     {"data":{"name":"ts"},"transform":[{"filter":"datum.p=='e2'"}],"mark":{"type":"line","color":"#3b56a6","strokeWidth":2.5,"clip":true},"encoding":{"x":{"field":"t","type":"quantitative","axis":null},"y":{"field":"v","type":"quantitative","axis":null},"detail":{"field":"s"}}},
     {"data":{"name":"ts"},"transform":[{"filter":"datum.p=='e2'"}],"mark":{"type":"line","color":"#e8262a","strokeWidth":2.5,"strokeDash":[4,4],"clip":true},"encoding":{"x":{"field":"t","type":"quantitative","axis":null},"y":{"field":"v","type":"quantitative","axis":null},"detail":{"field":"s"}}}
    ],"resolve":{"axis":{"x":"independent","y":"independent"}}}
  ]},
  {"spacing":4,"hconcat":[
   {"width":85,"height":89,"layer":[
     {"data":{"values":[{}]},"mark":{"type":"point","opacity":0},"encoding":{"x":{"datum":0,"type":"quantitative","scale":{"domain":[0,35]},"axis":{"style":"tk","domain":false,"tickSize":4,"offset":-4,"minExtent":0,"tickColor":"#222","tickWidth":1.2,"labelPadding":4,"orient":"bottom","values":[0,5,10,15,20,25,30,35],"labelExpr":"datum.value==0?'0':datum.value==30?'30':''","title":"t","titlePadding":4}},"y":{"datum":0,"type":"quantitative","scale":{"domain":[-3,3]},"axis":{"style":"tk","domain":false,"tickSize":4,"offset":-4,"minExtent":0,"tickColor":"#222","tickWidth":1.2,"labelPadding":3,"orient":"left","values":[-2.5,-2,-1.5,-1,-0.5,0,0.5,1,1.5,2,2.5],"labelExpr":"datum.value==2?'2':datum.value==-2?'−2':''","title":"Δx","titleAngle":0,"titlePadding":2}}}},
     {"data":{"values":[{}]},"mark":{"type":"point","opacity":0},"encoding":{"x":{"datum":0,"type":"quantitative","scale":{"domain":[0,35]},"axis":{"style":"tk","domain":false,"tickSize":4,"offset":-4,"minExtent":0,"tickColor":"#222","tickWidth":1.2,"orient":"top","values":[0,5,10,15,20,25,30,35],"labels":false,"title":null}},"y":{"datum":0,"type":"quantitative","scale":{"domain":[-3,3]},"axis":{"style":"tk","domain":false,"tickSize":4,"offset":-4,"minExtent":0,"tickColor":"#222","tickWidth":1.2,"orient":"right","values":[-2.5,-2,-1.5,-1,-0.5,0,0.5,1,1.5,2,2.5],"labels":false,"title":null}}}},
     {"data":{"name":"ts"},"transform":[{"filter":"datum.p=='c3'"}],"mark":{"type":"line","color":"#8dc63f","strokeWidth":2.5,"clip":true},"encoding":{"x":{"field":"t","type":"quantitative","axis":null},"y":{"field":"v","type":"quantitative","axis":null},"detail":{"field":"s"}}}
    ],"resolve":{"axis":{"x":"independent","y":"independent"}}},
   {"width":85,"height":89,"layer":[
     {"data":{"values":[{}]},"mark":{"type":"point","opacity":0},"encoding":{"x":{"datum":0,"type":"quantitative","scale":{"domain":[0,35]},"axis":{"style":"tk","domain":false,"tickSize":4,"offset":-4,"minExtent":0,"tickColor":"#222","tickWidth":1.2,"labelPadding":4,"orient":"bottom","values":[0,5,10,15,20,25,30,35],"labelExpr":"datum.value==0?'0':datum.value==30?'30':''","title":"t","titlePadding":4}},"y":{"datum":0,"type":"quantitative","scale":{"domain":[-3,3]},"axis":{"style":"tk","domain":false,"tickSize":4,"offset":-4,"minExtent":0,"tickColor":"#222","tickWidth":1.2,"orient":"left","values":[-2.5,-2,-1.5,-1,-0.5,0,0.5,1,1.5,2,2.5],"labels":false,"title":null}}}},
     {"data":{"values":[{}]},"mark":{"type":"point","opacity":0},"encoding":{"x":{"datum":0,"type":"quantitative","scale":{"domain":[0,35]},"axis":{"style":"tk","domain":false,"tickSize":4,"offset":-4,"minExtent":0,"tickColor":"#222","tickWidth":1.2,"orient":"top","values":[0,5,10,15,20,25,30,35],"labels":false,"title":null}},"y":{"datum":0,"type":"quantitative","scale":{"domain":[-3,3]},"axis":{"style":"tk","domain":false,"tickSize":4,"offset":-4,"minExtent":0,"tickColor":"#222","tickWidth":1.2,"orient":"right","values":[-2.5,-2,-1.5,-1,-0.5,0,0.5,1,1.5,2,2.5],"labels":false,"title":null}}}},
     {"data":{"name":"ts"},"transform":[{"filter":"datum.p=='d3'"}],"mark":{"type":"line","color":"#8dc63f","strokeWidth":2.5,"clip":true},"encoding":{"x":{"field":"t","type":"quantitative","axis":null},"y":{"field":"v","type":"quantitative","axis":null},"detail":{"field":"s"}}}
    ],"resolve":{"axis":{"x":"independent","y":"independent"}}},
   {"width":85,"height":89,"layer":[
     {"data":{"values":[{}]},"mark":{"type":"point","opacity":0},"encoding":{"x":{"datum":0,"type":"quantitative","scale":{"domain":[0,35]},"axis":{"style":"tk","domain":false,"tickSize":4,"offset":-4,"minExtent":0,"tickColor":"#222","tickWidth":1.2,"labelPadding":4,"orient":"bottom","values":[0,5,10,15,20,25,30,35],"labelExpr":"datum.value==0?'0':datum.value==30?'30':''","title":"t","titlePadding":4}},"y":{"datum":0,"type":"quantitative","scale":{"domain":[-3,3]},"axis":{"style":"tk","domain":false,"tickSize":4,"offset":-4,"minExtent":0,"tickColor":"#222","tickWidth":1.2,"orient":"left","values":[-2.5,-2,-1.5,-1,-0.5,0,0.5,1,1.5,2,2.5],"labels":false,"title":null}}}},
     {"data":{"values":[{}]},"mark":{"type":"point","opacity":0},"encoding":{"x":{"datum":0,"type":"quantitative","scale":{"domain":[0,35]},"axis":{"style":"tk","domain":false,"tickSize":4,"offset":-4,"minExtent":0,"tickColor":"#222","tickWidth":1.2,"orient":"top","values":[0,5,10,15,20,25,30,35],"labels":false,"title":null}},"y":{"datum":0,"type":"quantitative","scale":{"domain":[-3,3]},"axis":{"style":"tk","domain":false,"tickSize":4,"offset":-4,"minExtent":0,"tickColor":"#222","tickWidth":1.2,"orient":"right","values":[-2.5,-2,-1.5,-1,-0.5,0,0.5,1,1.5,2,2.5],"labels":false,"title":null}}}},
     {"data":{"name":"ts"},"transform":[{"filter":"datum.p=='e3'"}],"mark":{"type":"line","color":"#8dc63f","strokeWidth":2.5,"clip":true},"encoding":{"x":{"field":"t","type":"quantitative","axis":null},"y":{"field":"v","type":"quantitative","axis":null},"detail":{"field":"s"}}}
    ],"resolve":{"axis":{"x":"independent","y":"independent"}}}
  ]}
 ]}
]
}
